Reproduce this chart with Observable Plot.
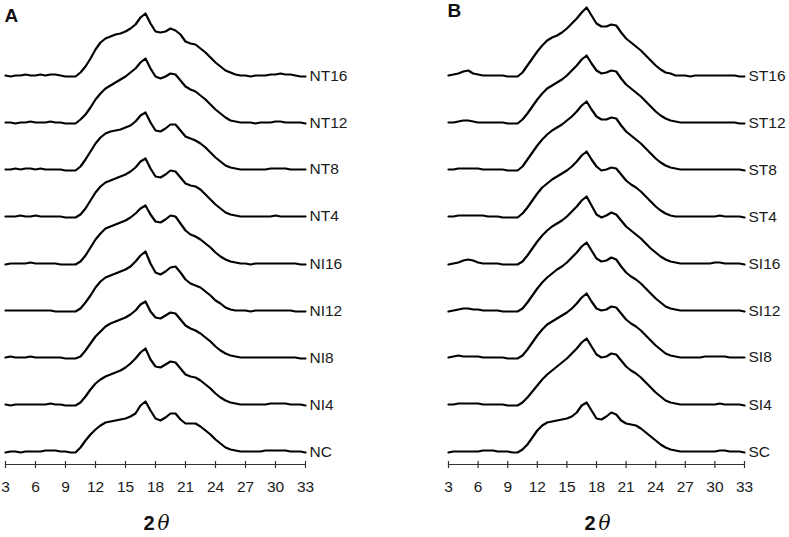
<!DOCTYPE html>
<html>
<head>
<meta charset="utf-8">
<script src="https://cdn.jsdelivr.net/npm/d3@7"></script>
<script src="https://cdn.jsdelivr.net/npm/@observablehq/plot@0.6"></script>
<style>
  html, body { margin: 0; padding: 0; background: #fff; }
  #wrap { position: relative; width: 789px; height: 537px; overflow: hidden; }
  #pa { position: absolute; left: 0; top: 0; }
  #pb { position: absolute; left: 400px; top: 0; }
</style>
</head>
<body>
<div id="wrap"><div id="pa"></div><div id="pb"></div></div>
<script>
// 2θ grid (degrees)
const theta = [3,3.5,4,4.5,5,5.5,6,6.5,7,7.5,8,8.5,9,9.5,10,10.5,11,11.5,12,12.5,13,13.5,14,14.5,15,15.5,16,16.5,17,17.5,18,18.5,19,19.5,20,20.5,21,21.5,22,22.5,23,23.5,24,24.5,25,25.5,26,26.5,27,27.5,28,28.5,29,29.5,30,30.5,31,31.5,32,32.5,33];
const tickValues = [3,6,9,12,15,18,21,24,27,30,33];

// Panel A intensities (arbitrary units, above each trace's baseline)
const NC   = [0,1,1,0,1,1,1,1,2,2,2,1,1,0, 0,5,12,18,23,27,30,31,32,33,34,36,39,47,51,42,34,32,35,39,39,33,29,29,29,26,22,18,13,9,5,3,2,1,1,1,1,1,2,2,2,2,2,1,1,1,0];
const NI4  = [1,0,1,1,1,1,1,1,1,2,1,1,0,0, 0,3,9,16,22,26,29,31,33,35,38,42,47,53,57,46,39,38,41,44,43,37,31,29,28,25,21,17,12,8,5,3,2,1,1,1,1,1,1,2,2,2,2,1,1,1,0];
const NI8  = [1,2,1,1,1,2,1,1,1,1,1,1,0,0, 0,2,8,15,22,27,32,35,37,39,41,44,48,54,57,47,41,40,43,46,45,39,33,30,28,25,21,17,12,8,5,3,2,1,1,1,1,1,1,1,1,1,1,1,1,0,0];
const NI12 = [1,1,1,1,1,1,1,1,1,1,0,0,0,0, 0,3,9,16,24,30,34,36,38,40,42,45,50,56,60,48,39,37,40,44,45,39,32,28,26,24,20,16,11,8,4,2,1,1,1,0,1,1,1,1,1,1,1,1,0,0,0];
const NI16 = [0,1,1,1,1,2,1,1,1,1,1,0,0,0, 0,3,9,17,25,31,36,38,40,42,44,47,51,56,59,50,43,42,45,49,48,41,34,30,28,25,21,17,12,8,5,3,2,1,1,0,1,1,1,1,1,1,1,1,1,0,0];
const NT4  = [1,1,1,2,1,1,2,1,1,1,1,1,0,0, 0,3,9,17,25,31,35,37,39,41,43,46,50,56,59,49,41,40,43,47,46,40,34,32,31,28,23,18,13,9,5,3,2,1,1,1,1,1,1,1,2,1,1,1,1,1,1];
const NT8  = [1,1,2,1,2,2,1,2,1,1,1,1,0,0, 0,4,11,19,27,33,37,39,40,41,43,45,49,55,58,48,40,39,42,46,46,40,34,32,30,27,23,18,13,9,5,3,2,1,1,1,1,1,1,2,2,2,2,1,1,1,1];
const NT12 = [1,1,0,1,1,2,1,1,1,2,1,1,0,0, 0,4,9,16,24,30,35,38,41,44,47,51,55,61,65,55,47,45,47,50,49,43,37,34,32,28,24,19,14,10,6,3,2,1,1,1,0,1,1,1,2,2,1,1,1,1,0];
const NT16 = [1,0,1,1,2,1,1,2,1,2,2,1,0,0, 0,4,10,18,27,34,38,40,42,43,45,48,52,59,63,53,45,44,45,48,46,42,35,33,32,28,24,19,14,10,6,4,2,1,1,0,1,1,1,2,2,3,2,2,1,0,0];

// Panel B intensities
const SC   = [0,1,1,1,1,1,1,2,2,2,1,1,1,0, 0,3,8,15,22,27,30,31,32,33,34,36,40,47,50,42,34,33,36,40,38,32,29,28,27,24,20,16,12,8,5,3,2,1,1,1,1,1,1,1,1,2,2,1,1,1,0];
const SI4  = [1,1,2,2,2,2,2,1,1,1,1,1,0,0, 0,3,8,14,20,26,31,35,39,43,47,52,57,63,67,59,51,48,49,52,51,45,39,35,32,28,23,18,13,9,5,3,2,1,1,1,1,1,1,1,1,2,1,1,1,1,0];
const SI8  = [1,2,3,2,2,2,2,1,1,1,1,1,0,0, 0,3,9,16,23,29,34,37,40,43,46,50,55,61,65,57,50,48,49,52,51,45,39,35,32,28,23,18,13,9,5,3,2,1,1,1,1,1,2,2,2,2,2,1,1,1,1];
const SI12 = [0,1,2,3,3,2,2,1,1,1,1,0,0,0, 0,3,9,16,23,29,34,38,42,45,49,54,59,65,69,61,53,50,51,54,52,45,39,35,32,28,23,18,13,9,5,3,2,1,1,1,1,1,1,1,1,1,1,1,1,1,0];
const SI16 = [0,1,2,4,5,4,2,1,1,1,1,0,0,0, 0,3,9,16,23,29,34,38,41,44,48,53,58,64,68,59,50,47,49,52,50,44,38,34,30,26,21,16,12,8,5,3,2,1,1,1,1,1,1,1,2,2,1,1,1,1,0];
const ST4  = [1,1,2,2,2,2,2,2,1,1,1,0,0,0, 0,4,10,17,24,30,34,38,41,44,47,51,56,62,66,58,51,47,48,50,49,43,37,33,30,26,21,16,11,7,4,2,1,1,1,1,1,1,1,1,1,2,1,1,1,1,0];
const ST8  = [1,1,2,2,2,2,2,1,1,1,1,1,0,0, 0,4,11,18,25,31,36,40,43,46,50,54,59,65,69,61,54,51,51,53,52,45,39,35,31,27,22,17,12,8,5,3,2,1,1,1,1,1,1,1,1,1,1,1,1,1,0];
const ST12 = [1,1,2,3,3,2,1,1,1,1,1,1,0,0, 0,4,10,17,24,30,35,38,41,44,48,53,58,64,68,60,53,50,51,53,52,45,39,35,31,27,22,17,12,8,5,3,2,1,1,1,1,1,1,1,1,1,1,1,1,0,0];
const ST16 = [1,2,3,5,6,3,2,1,1,1,1,1,0,0, 0,4,11,18,25,31,36,39,41,44,48,53,58,64,69,61,53,50,50,52,51,44,38,34,30,26,21,16,11,7,4,3,1,1,1,0,1,1,1,1,1,1,1,1,1,0,0];

// Stack order, bottom to top
const namesA = ["NC","NI4","NI8","NI12","NI16","NT4","NT8","NT12","NT16"];
const valuesA = [NC, NI4, NI8, NI12, NI16, NT4, NT8, NT12, NT16];
const namesB = ["SC","SI4","SI8","SI12","SI16","ST4","ST8","ST12","ST16"];
const valuesB = [SC, SI4, SI8, SI12, SI16, ST4, ST8, ST12, ST16];

const BASE = 12, STEP = 47;
const FONT = "Liberation Sans, Arial, Helvetica, sans-serif";

function panel(names, values, letter, opts) {
  const rows = [];
  const labels = [];
  names.forEach((n, k) => {
    const off = BASE + k * STEP;
    values[k].forEach((v, i) => rows.push({x: theta[i], y: v + off, name: n}));
    labels.push({x: 33, y: values[k][values[k].length - 1] + off, name: n});
  });
  return Plot.plot({
    width: opts.width,
    height: 537,
    marginLeft: opts.ml,
    marginRight: opts.mr,
    marginTop: 0,
    marginBottom: 73,
    style: {fontFamily: FONT, background: "white", overflow: "visible"},
    x: {domain: [3, 33], axis: null},
    y: {domain: [0, 464], axis: null},
    marks: [
      Plot.line(rows, {x: "x", y: "y", z: "name", stroke: "#000", strokeWidth: 2.2, strokeLinejoin: "round"}),
      Plot.text(labels, {x: "x", y: "y", text: "name", textAnchor: "start", dx: 4, fontSize: 15.5, fill: "#1a1a1a"}),
      Plot.ruleY([0], {x1: 3, x2: 33, stroke: "#333", strokeWidth: 1.2}),
      Plot.ruleX(tickValues, {y1: -4, y2: 3, stroke: "#333", strokeWidth: 1.2}),
      Plot.text(tickValues, {x: d => d, y: -23, text: d => String(d), fontSize: 15.5, fill: "#1a1a1a"}),
      Plot.text([18], {x: d => d, y: -59, text: () => "2", textAnchor: "end", dx: -1, fontSize: 20, fontWeight: "bold", fill: "#111"}),
      Plot.text([18], {x: d => d, y: -59, text: () => "\u03B8", textAnchor: "start", dx: 2, fontSize: 20, fontStyle: "italic", fontFamily: "DejaVu Serif, serif", fill: "#111"}),
      Plot.text([letter], {x: 3, y: opts.ly, text: d => d, textAnchor: "start", dx: -1, fontSize: 19, fontWeight: "bold", fill: "#111"})
    ]
  });
}

document.getElementById("pa").append(panel(namesA, valuesA, "A", {width: 390, ml: 5, mr: 85, ly: 449}));
document.getElementById("pb").append(panel(namesB, valuesB, "B", {width: 389, ml: 48, mr: 45, ly: 454}));
</script>
</body>
</html>
